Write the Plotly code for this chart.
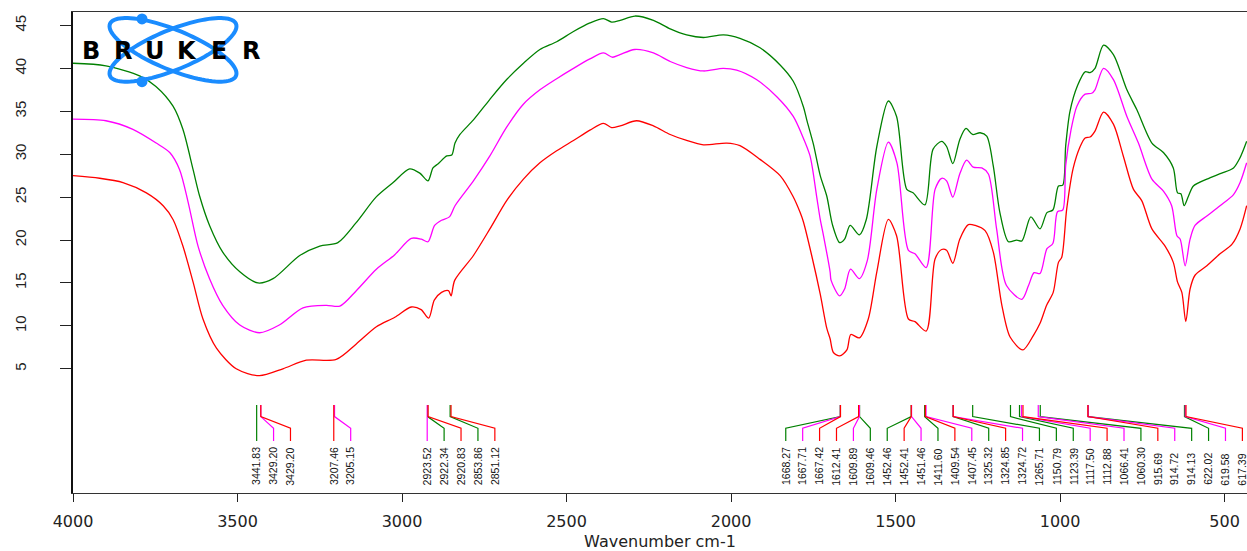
import math
import plotly.graph_objects as go

# ---------------- data ----------------
green_wn = [4000, 3900, 3796, 3748, 3696, 3666, 3635, 3615, 3585, 3545, 3493, 3438, 3392, 3311, 3250,
            3195, 3140, 3079, 3027, 2977, 2946, 2921, 2906, 2890, 2864, 2849, 2839, 2824, 2783, 2733,
            2682, 2631, 2581, 2530, 2479, 2429, 2388, 2363, 2337, 2292, 2236, 2185, 2135, 2084, 2023,
            1973, 1912, 1851, 1811, 1780, 1770, 1750, 1729, 1709, 1692, 1670, 1655, 1638, 1610, 1589,
            1557, 1522, 1497, 1466, 1447, 1411, 1386, 1360, 1345, 1326, 1305, 1286, 1266, 1243, 1223,
            1203, 1183, 1157, 1132, 1116, 1089, 1061, 1040, 1022, 1005, 992, 983, 970, 947, 924,
            909, 894, 868, 838, 797, 767, 721, 686, 656, 643, 633, 623, 610, 595, 554,
            509, 473, 453, 433]
green_t = [40.6, 40.3, 39.1, 37.9, 35.6, 32.9, 28.2, 25.1, 21.7, 18.6, 16.3, 15.0, 15.5, 18.2, 19.3,
           19.7, 22.0, 25.0, 26.7, 28.3, 27.8, 26.9, 28.4, 28.9, 29.8, 29.9, 31.3, 32.3, 34.0, 36.4,
           38.7, 40.6, 42.2, 43.1, 44.3, 45.3, 45.8, 45.4, 45.6, 46.1, 45.6, 44.6, 43.9, 43.6, 43.9,
           43.5, 42.4, 40.4, 38.5, 35.5, 34.0, 31.2, 27.5, 25.1, 21.8, 19.7, 20.1, 21.7, 20.6, 22.4,
           30.9, 36.2, 34.4, 25.9, 25.5, 24.1, 30.6, 31.5, 30.9, 28.9, 31.7, 33.0, 32.3, 32.5, 32.1,
           28.6, 23.2, 19.8, 20.0, 19.9, 22.7, 21.3, 23.2, 23.5, 26.3, 26.4, 31.0, 35.0, 38.0, 39.6,
           39.5, 40.0, 42.7, 41.6, 37.5, 35.2, 31.3, 30.2, 28.4, 25.5, 25.4, 24.0, 25.1, 26.3, 27.1,
           27.8, 28.4, 29.6, 31.5]

magenta_wn = [4000, 3900, 3818, 3747, 3706, 3676, 3650, 3620, 3585, 3545, 3493, 3433, 3373, 3301, 3230,
              3189, 3139, 3078, 3022, 2972, 2941, 2921, 2901, 2880, 2856, 2839, 2783, 2733, 2683, 2632,
              2581, 2530, 2479, 2429, 2388, 2360, 2338, 2293, 2236, 2185, 2135, 2084, 2024, 1983, 1923,
              1861, 1811, 1785, 1760, 1740, 1729, 1719, 1699, 1696, 1670, 1655, 1637, 1610, 1586, 1557,
              1522, 1496, 1461, 1441, 1407, 1380, 1360, 1345, 1326, 1305, 1284, 1264, 1238, 1218, 1193,
              1163, 1116, 1096, 1079, 1061, 1040, 1022, 1008, 992, 983, 967, 949, 924, 904, 894,
              868, 838, 797, 762, 721, 686, 661, 645, 635, 620, 605, 590, 554, 514, 473,
              453, 433]
magenta_t = [34.1, 33.9, 32.9, 31.3, 30.2, 28.2, 24.4, 19.3, 15.5, 12.4, 10.1, 9.2, 10.1, 12.1, 12.4,
             12.3, 14.1, 16.6, 18.3, 20.2, 20.1, 19.8, 21.7, 22.3, 22.7, 24.0, 26.9, 29.8, 33.1, 35.8,
             37.5, 38.8, 40.0, 41.1, 41.8, 41.3, 41.6, 42.2, 41.8, 40.8, 40.1, 39.7, 40.0, 39.8, 38.7,
             36.7, 34.4, 32.3, 29.8, 25.1, 22.4, 20.5, 16.3, 15.3, 13.5, 14.3, 16.6, 15.5, 17.6, 25.9,
             31.4, 29.0, 18.8, 18.4, 16.8, 25.9, 27.2, 26.9, 25.0, 27.7, 29.3, 28.5, 28.4, 27.7, 21.3,
             14.7, 13.1, 14.7, 16.2, 16.1, 19.0, 19.6, 23.3, 23.5, 28.7, 32.8, 35.6, 37.0, 37.1, 37.5,
             40.0, 38.7, 34.4, 31.3, 27.1, 25.7, 24.0, 20.5, 20.1, 17.0, 20.1, 21.7, 22.8, 24.0, 25.3,
             26.7, 29.0]

red_wn = [4000, 3919, 3848, 3777, 3726, 3696, 3666, 3635, 3605, 3564, 3504, 3433, 3362, 3291, 3200,
          3139, 3078, 3022, 2972, 2942, 2919, 2902, 2880, 2859, 2851, 2840, 2783, 2733, 2682, 2631,
          2581, 2530, 2479, 2429, 2388, 2363, 2337, 2287, 2236, 2185, 2135, 2084, 2013, 1973, 1912,
          1851, 1812, 1790, 1780, 1755, 1729, 1709, 1699, 1689, 1670, 1648, 1636, 1610, 1583, 1557,
          1522, 1497, 1461, 1441, 1407, 1380, 1360, 1345, 1326, 1305, 1279, 1258, 1228, 1203, 1177,
          1152, 1113, 1081, 1061, 1041, 1021, 1005, 995, 980, 960, 939, 924, 909, 894, 868,
          838, 808, 777, 752, 721, 681, 656, 643, 630, 618, 605, 590, 554, 514, 478,
          453, 433]
red_t = [27.5, 27.2, 26.7, 25.5, 24.0, 22.4, 19.3, 15.1, 10.8, 7.4, 5.0, 4.2, 5.0, 6.0, 6.1,
         7.9, 9.9, 11.0, 12.2, 11.9, 10.9, 13.0, 13.9, 14.1, 13.5, 15.3, 18.2, 21.3, 24.6, 27.1,
         29.0, 30.4, 31.6, 32.8, 33.6, 33.1, 33.3, 33.9, 33.3, 32.3, 31.6, 31.1, 31.3, 31.0, 29.4,
         27.5, 25.1, 23.2, 22.1, 18.2, 13.7, 9.7, 8.5, 6.9, 6.5, 7.2, 9.0, 8.6, 10.8, 16.3,
         22.4, 20.5, 10.8, 10.5, 9.4, 17.8, 18.9, 18.8, 17.3, 20.1, 21.8, 21.7, 21.1, 18.6, 12.4,
         8.7, 7.2, 8.9, 10.3, 12.4, 13.9, 17.4, 18.0, 23.6, 28.4, 30.9, 31.9, 32.0, 32.7, 34.9,
         33.5, 29.8, 25.9, 24.6, 21.3, 19.3, 17.4, 15.1, 13.9, 10.5, 14.3, 15.9, 17.0, 18.4, 19.5,
         21.3, 24.0]

# peak picks (wavenumber, spectrum)
peak_wn = [3441.83, 3429.20, 3429.20,
           3207.46, 3205.15,
           2923.52, 2922.34, 2920.83, 2853.86, 2851.12,
           1668.27, 1667.71, 1667.42, 1612.41, 1609.89, 1609.46,
           1452.46, 1452.41, 1451.46, 1411.60, 1409.54, 1407.45,
           1325.32, 1324.85, 1324.72, 1265.71, 1150.79, 1123.39,
           1117.50, 1112.88, 1066.41, 1060.30, 915.69, 914.72,
           914.13, 622.02, 619.58, 617.39]
peak_series = ["g", "m", "r",
               "r", "m",
               "m", "g", "r", "g", "r",
               "g", "m", "r", "r", "m", "g",
               "g", "r", "m", "g", "r", "m",
               "g", "r", "m", "g", "g", "g",
               "m", "r", "m", "g", "r", "m",
               "g", "g", "m", "r"]

x_ticks = [4000, 3500, 3000, 2500, 2000, 1500, 1000, 500]
y_ticks = [5, 10, 15, 20, 25, 30, 35, 40, 45]

# ---------------- styling ----------------
COLORS = {"g": "#008000", "m": "#ff00ff", "r": "#ff0000"}
X_RANGE = [4000, 432]
Y_RANGE = [-9.47, 46.57]
W, H = 1247, 551
ML, MR, MT, MB = 73, 0, 12, 56
PW, PH = W - ML - MR, H - MT - MB
SANS = "Liberation Sans, Arial, sans-serif"

# peak-marker geometry (in y data units)
Y_TOP, Y_KNEE, Y_LAB_TOP, Y_LAB_BOT, Y_TEXT = 0.78, -0.57, -1.93, -3.40, -8.8
LABEL_SPACING = 51.4
LABEL_LIMIT = 446.0

fig = go.Figure()

for wn, t, key in ((green_wn, green_t, "g"), (magenta_wn, magenta_t, "m"), (red_wn, red_t, "r")):
    fig.add_trace(go.Scatter(x=wn, y=t, mode="lines",
                             line=dict(color=COLORS[key], width=1.3, shape="spline", smoothing=0.8),
                             hoverinfo="skip", showlegend=False))

# label layout: avoid overlap, keep inside limit
n = len(peak_wn)
lab = [0.0] * n
for i in range(n):
    lab[i] = peak_wn[i] if i == 0 else min(peak_wn[i], lab[i - 1] - LABEL_SPACING)
if lab[-1] < LABEL_LIMIT:
    lab[-1] = LABEL_LIMIT
    for i in range(n - 2, -1, -1):
        lab[i] = max(lab[i], lab[i + 1] + LABEL_SPACING)

for key in ("g", "m", "r"):
    xs, ys = [], []
    for p, l, s in zip(peak_wn, lab, peak_series):
        if s != key:
            continue
        xs += [p, p, l, l, None]
        ys += [Y_TOP, Y_KNEE, Y_LAB_TOP, Y_LAB_BOT, None]
    fig.add_trace(go.Scatter(x=xs, y=ys, mode="lines", line=dict(color=COLORS[key], width=1.2),
                             hoverinfo="skip", showlegend=False))

annotations = []
for p, l in zip(peak_wn, lab):
    annotations.append(dict(x=l, y=Y_TEXT, xref="x", yref="y", text=f"{p:.2f}", showarrow=False,
                            textangle=-90, xanchor="center", yanchor="bottom",
                            font=dict(family=SANS, size=10.5, color="#111")))

# ---------------- Bruker logo (decoration, pixel geometry) ----------------
def px2paper(px, py):
    return (px - ML) / PW, (MT + PH - py) / PH

shapes = []
cx, cy, a, b = 173, 50, 68.2, 20.0
for ang in (22.5, -22.5):
    th = math.radians(ang)
    pts = []
    for k in range(0, 97):
        t = 2 * math.pi * k / 96
        ex = a * math.cos(t)
        ey = b * math.sin(t)
        px = cx + ex * math.cos(th) - ey * math.sin(th)
        py = cy + ex * math.sin(th) + ey * math.cos(th)
        X, Y = px2paper(px, py)
        pts.append(f"{X:.5f},{Y:.5f}")
    path = "M" + " L".join(pts) + " Z"
    shapes.append(dict(type="path", path=path, xref="paper", yref="paper",
                       line=dict(color="#1a8cff", width=4), layer="above"))
for (dx, dy) in ((142, 19), (142, 82)):
    x0, y0 = px2paper(dx - 5.5, dy + 5.5)
    x1, y1 = px2paper(dx + 5.5, dy - 5.5)
    shapes.append(dict(type="circle", xref="paper", yref="paper", x0=x0, y0=y0, x1=x1, y1=y1,
                       fillcolor="#1a8cff", line=dict(color="#1a8cff", width=0), layer="above"))

for ch, lx in zip("BRUKER", [90.7, 123, 154.5, 187, 218.5, 251]):
    X, Y = px2paper(lx, 51.3)
    annotations.append(dict(x=X, y=Y, xref="paper", yref="paper", text=f"<b>{ch}</b>",
                            showarrow=False, xanchor="center", yanchor="middle",
                            font=dict(family="DejaVu Sans", size=24, color="#000")))

fig.update_layout(
    width=W, height=H, autosize=False,
    margin=dict(l=ML, r=MR, t=MT, b=MB, pad=0),
    paper_bgcolor="white", plot_bgcolor="white",
    shapes=shapes, annotations=annotations,
    xaxis=dict(range=X_RANGE, tickmode="array", tickvals=x_ticks, ticktext=[str(v) for v in x_ticks],
               ticks="outside", ticklen=8, tickwidth=1.3, tickcolor="#222",
               showline=True, linecolor="#333", linewidth=1.3, mirror=True,
               showgrid=False, zeroline=False, ticklabelstandoff=6,
               tickfont=dict(family="DejaVu Sans", size=16, color="#222"),
               title=dict(text="Wavenumber cm-1", standoff=8,
                          font=dict(family="DejaVu Sans", size=16, color="#222"))),
    yaxis=dict(range=Y_RANGE, tickmode="array", tickvals=y_ticks, ticktext=[str(v) for v in y_ticks],
               ticks="outside", ticklen=11, tickwidth=1.3, tickcolor="#222", tickangle=-90,
               showline=True, linecolor="#111", linewidth=1.5, mirror=False,
               showgrid=False, zeroline=False, ticklabelstandoff=28,
               tickfont=dict(family=SANS, size=15, color="#222")),
)

fig.write_html("out.html")
